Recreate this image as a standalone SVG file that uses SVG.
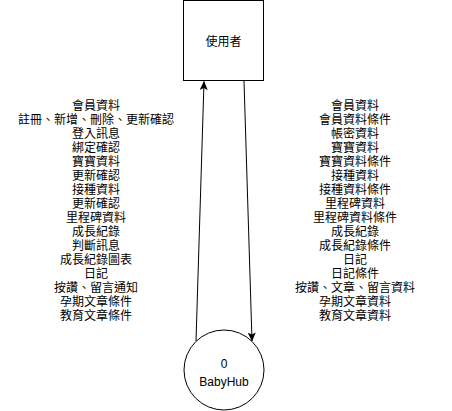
<svg xmlns="http://www.w3.org/2000/svg" width="452" height="411" viewBox="0 0 452 411">
<defs>
<style>
.lbl{font-family:"Noto Sans CJK TC","Noto Sans CJK SC","Liberation Sans",sans-serif;font-size:12px;fill:#000;text-anchor:middle}
.en{font-family:"Liberation Sans",Arial,sans-serif;font-size:12px;fill:#000;text-anchor:middle}
.shape{fill:#fff;stroke:#000;stroke-width:1}
.edge{fill:none;stroke:#000;stroke-width:1}
</style>
<marker id="arr" markerUnits="userSpaceOnUse" markerWidth="9" markerHeight="8" viewBox="0 0 9 8" refX="8.5" refY="4" orient="auto">
<path d="M0,0 L9,4 L0,8 L2,4 Z" fill="#000"/>
</marker>
</defs>
<rect width="452" height="411" fill="#fff"/>
<g id="user">
<rect class="shape" x="183.5" y="0.5" width="80" height="80"/>
<text class="lbl" x="223.5" y="45.5">使用者</text>
</g>
<g id="babyhub">
<circle class="shape" cx="224" cy="370" r="40"/>
<text class="en" x="224" y="367.5">0</text>
<text class="en" x="224" y="386">BabyHub</text>
</g>
<g id="connectors">
<path class="edge" d="M196,341 L204,81.5" marker-end="url(#arr)"/>
<path class="edge" d="M244,81 L252,341" marker-end="url(#arr)"/>
</g>
<g id="left-labels" class="lbl">
<text x="96" y="109.5">會員資料</text>
<text x="96" y="123.5">註冊、新增、刪除、更新確認</text>
<text x="96" y="137.5">登入訊息</text>
<text x="96" y="151.5">綁定確認</text>
<text x="96" y="165.5">寶寶資料</text>
<text x="96" y="179.5">更新確認</text>
<text x="96" y="193.5">接種資料</text>
<text x="96" y="207.5">更新確認</text>
<text x="96" y="221.5">里程碑資料</text>
<text x="96" y="235.5">成長紀錄</text>
<text x="96" y="249.5">判斷訊息</text>
<text x="96" y="263.5">成長紀錄圖表</text>
<text x="96" y="277.5">日記</text>
<text x="96" y="291.5">按讚、留言通知</text>
<text x="96" y="305.5">孕期文章條件</text>
<text x="96" y="319.5">教育文章條件</text>
</g>
<g id="right-labels" class="lbl">
<text x="355" y="109.5">會員資料</text>
<text x="355" y="123.5">會員資料條件</text>
<text x="355" y="137.5">帳密資料</text>
<text x="355" y="151.5">寶寶資料</text>
<text x="355" y="165.5">寶寶資料條件</text>
<text x="355" y="179.5">接種資料</text>
<text x="355" y="193.5">接種資料條件</text>
<text x="355" y="207.5">里程碑資料</text>
<text x="355" y="221.5">里程碑資料條件</text>
<text x="355" y="235.5">成長紀錄</text>
<text x="355" y="249.5">成長紀錄條件</text>
<text x="355" y="263.5">日記</text>
<text x="355" y="277.5">日記條件</text>
<text x="355" y="291.5">按讚、文章、留言資料</text>
<text x="355" y="305.5">孕期文章資料</text>
<text x="355" y="319.5">教育文章資料</text>
</g>
</svg>
